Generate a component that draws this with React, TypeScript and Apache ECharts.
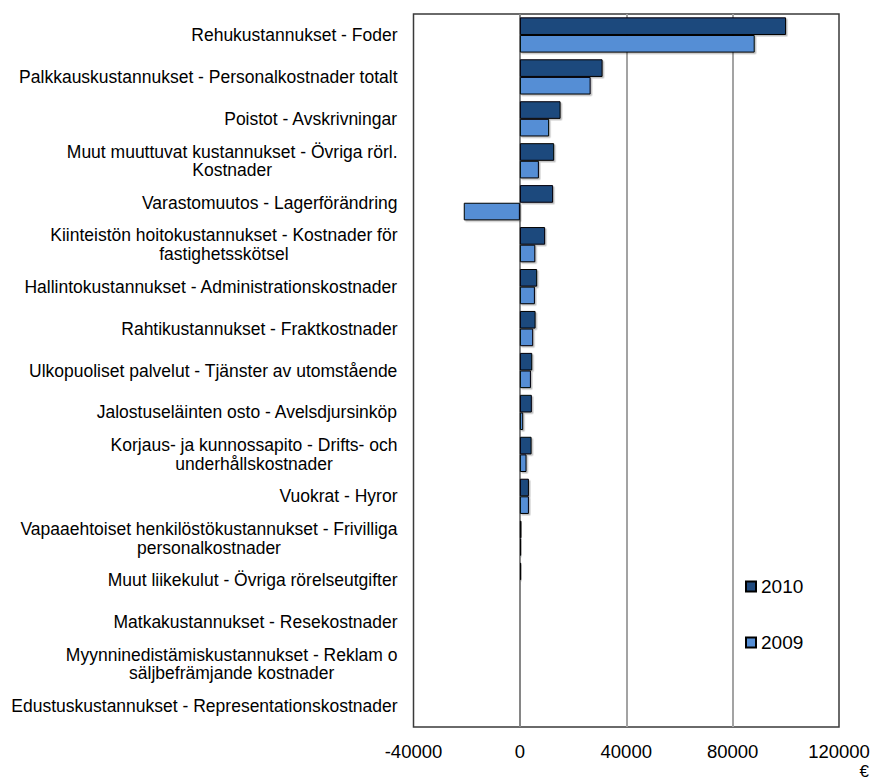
import React, { useEffect, useRef } from "react";
import * as echarts from "echarts";

const categories: string[] = [
  "Rehukustannukset - Foder",
  "Palkkauskustannukset - Personalkostnader totalt",
  "Poistot - Avskrivningar",
  "Muut muuttuvat kustannukset - Övriga rörl.\nKostnader",
  "Varastomuutos - Lagerförändring",
  "Kiinteistön hoitokustannukset - Kostnader för\nfastighetsskötsel",
  "Hallintokustannukset - Administrationskostnader",
  "Rahtikustannukset - Fraktkostnader",
  "Ulkopuoliset palvelut - Tjänster av utomstående",
  "Jalostuseläinten osto - Avelsdjursinköp",
  "Korjaus- ja kunnossapito - Drifts- och\nunderhållskostnader",
  "Vuokrat - Hyror",
  "Vapaaehtoiset henkilöstökustannukset - Frivilliga\npersonalkostnader",
  "Muut liikekulut - Övriga rörelseutgifter",
  "Matkakustannukset - Resekostnader",
  "Myynninedistämiskustannukset - Reklam o\nsäljbefrämjande kostnader",
  "Edustuskustannukset - Representationskostnader",
];

const values2010: number[] = [
  100100, 31100, 15300, 12900, 12500, 9500, 6500, 5900, 4650, 4500, 4400, 3400, 600, 500, 150, 0, 0,
];
const values2009: number[] = [
  88300, 26600, 11000, 7150, -21100, 5800, 5650, 5000, 4150, 1250, 2500, 3400, 500, 0, 0, 0, 0,
];

const xTicks = { min: -40000, max: 120000, interval: 40000 };
const unitLabel = "€";

const FONT = "'Liberation Sans', Arial, sans-serif";

export default function App() {
  const ref = useRef<HTMLDivElement>(null);
  useEffect(() => {
    if (!ref.current) return;
    const chart = echarts.init(ref.current, undefined, { renderer: "svg" });
    const barStyle = (color: string) => ({
      color,
      borderColor: "#000",
      borderWidth: 1,
      shadowColor: "rgba(0,0,0,0.25)",
      shadowOffsetX: 1.5,
      shadowOffsetY: 1.5,
      shadowBlur: 1,
    });
    chart.setOption({
      animation: false,
      textStyle: { fontFamily: FONT },
      grid: {
        left: 413.5,
        right: 35,
        top: 14,
        bottom: 55,
        show: true,
        borderColor: "#3a3a3a",
        borderWidth: 1.5,
        containLabel: false,
      },
      legend: {
        orient: "vertical",
        left: 745,
        top: 577,
        padding: 0,
        itemWidth: 10,
        itemHeight: 10,
        itemGap: 37,
        itemTextGap: 3,
        icon: "rect",
        data: ["2010", "2009"],
        textStyle: { fontSize: 19, color: "#000", fontFamily: FONT, lineHeight: 19 },
      },
      xAxis: {
        type: "value",
        min: xTicks.min,
        max: xTicks.max,
        interval: xTicks.interval,
        axisLine: { show: false },
        axisTick: { show: false },
        axisLabel: {
          fontSize: 18.5,
          color: "#000",
          margin: 15,
          fontFamily: FONT,
          formatter: (v: number) => String(v),
        },
        splitLine: {
          show: true,
          lineStyle: {
            color: ["rgba(0,0,0,0)", "#868686", "#a3a3a3", "#a3a3a3", "rgba(0,0,0,0)"],
            width: 2,
          },
        },
      },
      yAxis: {
        type: "category",
        data: categories,
        inverse: true,
        axisLine: { show: false, onZero: false },
        axisTick: { show: false },
        splitLine: { show: false },
        axisLabel: {
          fontSize: 17.5,
          color: "#000",
          margin: 16,
          fontFamily: FONT,
          align: "right",
          formatter: (v: string) =>
            v
              .split("\n")
              .map((l) => `{c|${l}}`)
              .join("\n"),
          rich: { c: { align: "center", fontSize: 17.5, lineHeight: 18.5, fontFamily: FONT, color: "#000" } },
        },
      },
      graphic: [
        {
          type: "text",
          right: 5,
          top: 763,
          style: { text: unitLabel, fontSize: 17, lineHeight: 17, fill: "#000", fontFamily: FONT },
        },
      ],
      series: [
        {
          name: "2010",
          type: "bar",
          data: values2010,
          itemStyle: barStyle("#1F497D"),
          barGap: "0%",
          barCategoryGap: "16%",
        },
        {
          name: "2009",
          type: "bar",
          data: values2009,
          itemStyle: barStyle("#558ED5"),
          barGap: "0%",
          barCategoryGap: "16%",
        },
      ],
    });
    return () => chart.dispose();
  }, []);
  return <div ref={ref} style={{ width: 874, height: 782, position: "absolute", left: 0, top: 0 }} />;
}
